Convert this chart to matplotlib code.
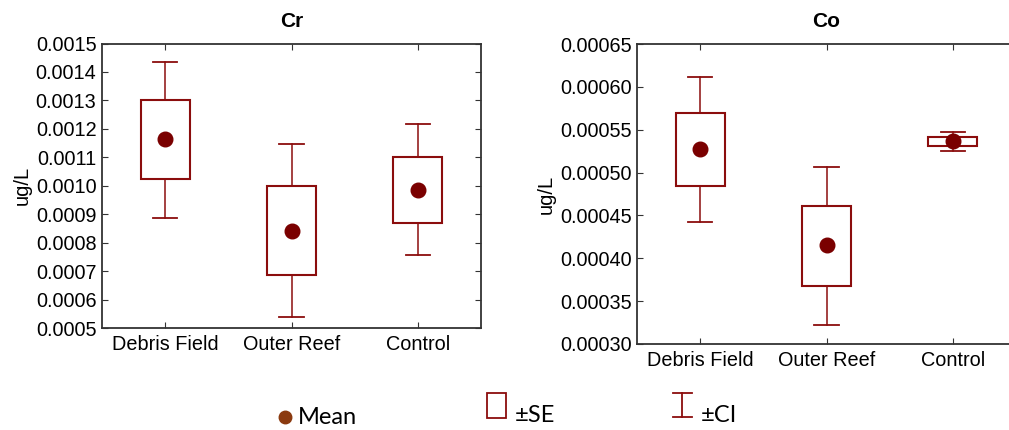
import matplotlib.pyplot as plt
import numpy as np
from matplotlib.patches import Rectangle
from matplotlib.lines import Line2D
from matplotlib.ticker import MultipleLocator, FormatStrFormatter

plt.rcParams['font.family'] = ['Liberation Sans', 'DejaVu Sans']

sites = ['Debris Field', 'Outer Reef', 'Control']

# Cr (ug/L)
cr_mean = [0.001163, 0.000842, 0.000985]
cr_se_lo = [0.001024, 0.000687, 0.000870]
cr_se_hi = [0.001300, 0.000998, 0.001102]
cr_ci_lo = [0.000887, 0.000537, 0.000756]
cr_ci_hi = [0.001436, 0.001147, 0.001216]

# Co (ug/L)
co_mean = [0.000528, 0.000415, 0.000537]
co_se_lo = [0.0004845, 0.000368, 0.000531]
co_se_hi = [0.000570, 0.000461, 0.000541]
co_ci_lo = [0.0004425, 0.000322, 0.000525]
co_ci_hi = [0.000612, 0.000506, 0.000547]

box_col = '#8b0d0d'
dot_col = '#7a0000'
W, H = 1009, 430

fig = plt.figure(figsize=(W / 100, H / 100), dpi=100)
ax1 = fig.add_axes([102 / W, 1 - 328 / H, 379 / W, 284.5 / H])
ax2 = fig.add_axes([637 / W, 1 - 344 / H, 379 / W, 300 / H])


def draw_panel(ax, title, mean, se_lo, se_hi, ci_lo, ci_hi, ylim, step, fmt):
    x = np.arange(len(sites))
    for i in x:
        # whiskers for the confidence interval
        ax.plot([i, i], [ci_lo[i], se_lo[i]], color=box_col, lw=1.1, zorder=2)
        ax.plot([i, i], [se_hi[i], ci_hi[i]], color=box_col, lw=1.1, zorder=2)
        ax.plot([i - 0.095, i + 0.095], [ci_lo[i], ci_lo[i]], color=box_col, lw=1.3, zorder=2)
        ax.plot([i - 0.095, i + 0.095], [ci_hi[i], ci_hi[i]], color=box_col, lw=1.3, zorder=2)
        # standard error box
        ax.add_patch(Rectangle((i - 0.195, se_lo[i]), 0.39, se_hi[i] - se_lo[i],
                               facecolor='white', edgecolor=box_col, lw=1.5, zorder=3))
    ax.plot(x, mean, 'o', color=dot_col, ms=10.5, zorder=4)

    ax.set_xlim(-0.5, 2.5)
    ax.set_ylim(*ylim)
    ax.set_xticks(x)
    ax.set_xticklabels(sites, fontsize=14.3)
    ax.yaxis.set_major_locator(MultipleLocator(step))
    ax.yaxis.set_major_formatter(FormatStrFormatter(fmt))
    ax.tick_params(direction='in', top=True, right=True, length=4, labelsize=14.3,
                   color='#333333')
    ax.tick_params(axis='x', pad=5)
    ax.tick_params(axis='y', pad=4)
    for s in ax.spines.values():
        s.set_color('#333333')
        s.set_linewidth(1.3)
    ax.set_title(title, fontsize=15, fontweight='bold', pad=12)
    ax.set_ylabel('ug/L', fontsize=14.5, labelpad=3)


draw_panel(ax1, 'Cr', cr_mean, cr_se_lo, cr_se_hi, cr_ci_lo, cr_ci_hi,
           (0.0005, 0.0015), 0.0001, '%.4f')
draw_panel(ax2, 'Co', co_mean, co_se_lo, co_se_hi, co_ci_lo, co_ci_hi,
           (0.00030, 0.00065), 0.00005, '%.5f')

# legend along the bottom
leg_font = ['Lato', 'DejaVu Sans']
fig.add_artist(Line2D([285 / W], [1 - 417 / H], marker='o', ms=9,
                      color='#8b3a0f', transform=fig.transFigure))
fig.text(298 / W, 1 - 417 / H, 'Mean', fontsize=17, family=leg_font, va='center')
fig.add_artist(Rectangle((487 / W, 1 - 418 / H), 19 / W, 25 / H, fill=False,
                         edgecolor=box_col, lw=1.3, transform=fig.transFigure))
fig.text(515 / W, 1 - 416 / H, '±SE', fontsize=17, family=leg_font, va='center')
cx = 682 / W
fig.add_artist(Line2D([cx, cx], [1 - 393 / H, 1 - 417 / H], color=box_col, lw=1.3,
                      transform=fig.transFigure))
for yy in (393, 417):
    fig.add_artist(Line2D([673 / W, 692 / W], [1 - yy / H, 1 - yy / H], color=box_col,
                          lw=1.3, transform=fig.transFigure))
fig.text(701 / W, 1 - 416 / H, '±CI', fontsize=17, family=leg_font, va='center')

fig.savefig('out.png', dpi=100)
